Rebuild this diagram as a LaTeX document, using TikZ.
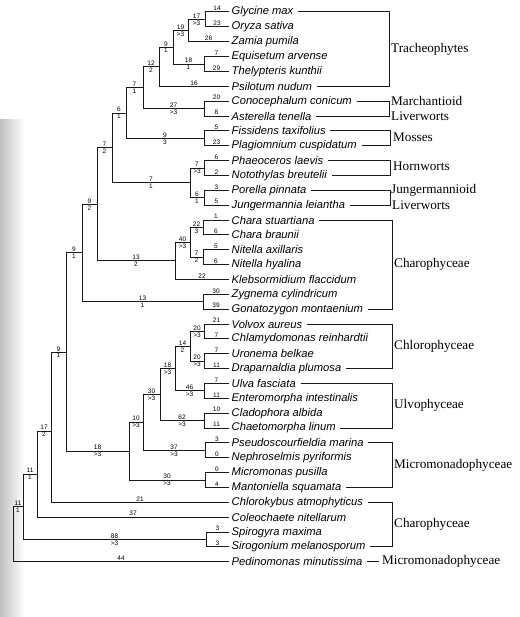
\documentclass[tikz,border=0pt]{standalone}
\usepackage{fontspec}
\setmainfont{Liberation Serif}
\setsansfont{Liberation Sans}
\newcommand\yy[1]{(12+14.86*(#1))}
\begin{document}
\begin{tikzpicture}[x=1pt,y=-1pt,
  br/.style={line width=1pt, draw=black!90},
  sp/.style={font=\sffamily\itshape\fontsize{11.2}{12}\selectfont, anchor=west, inner xsep=2.5pt, inner ysep=1pt},
  num/.style={font=\sffamily\fontsize{6.5}{7}\selectfont, inner sep=0.7pt},
  grp/.style={font=\rmfamily\fontsize{13.2}{14}\selectfont, anchor=west, inner sep=0pt}]
\useasboundingbox (0,0) rectangle (519,617);
\shade[left color=black!25, right color=white] (0,120) rectangle (24,617);
% leaves
\foreach \i/\t in {0/Glycine max,1/Oryza sativa,2/Zamia pumila,3/Equisetum arvense,4/Thelypteris kunthii,5/Psilotum nudum,6/Conocephalum conicum,7/Asterella tenella,8/Fissidens taxifolius,9/Plagiomnium cuspidatum,10/Phaeoceros laevis,11/Notothylas breutelii,12/Porella pinnata,13/Jungermannia leiantha,14/Chara stuartiana,15/Chara braunii,16/Nitella axillaris,17/Nitella hyalina,18/Klebsormidium flaccidum,19/Zygnema cylindricum,20/Gonatozygon montaenium,21/Volvox aureus,22/Chlamydomonas reinhardtii,23/Uronema belkae,24/Draparnaldia plumosa,25/Ulva fasciata,26/Enteromorpha intestinalis,27/Cladophora albida,28/Chaetomorpha linum,29/Pseudoscourfieldia marina,30/Nephroselmis pyriformis,31/Micromonas pusilla,32/Mantoniella squamata,33/Chlorokybus atmophyticus,34/Coleochaete nitellarum,35/Spirogyra maxima,36/Sirogonium melanosporum,37/Pedinomonas minutissima}
  \node[sp] (L\i) at (229,{\yy{\i}}) {\t};
% internal nodes
\coordinate (GO) at (205,{\yy{0.5}});
\coordinate (GOZ) at (188,{\yy{1.25}});
\coordinate (ET) at (204,{\yy{3.5}});
\coordinate (T1) at (173,{\yy{2.375}});
\coordinate (T2) at (159,{\yy{3.6875}});
\coordinate (MA) at (204,{\yy{6.5}});
\coordinate (L1n) at (143,{\yy{5.09}});
\coordinate (MO) at (204,{\yy{8.5}});
\coordinate (L2n) at (126,{\yy{6.8}});
\coordinate (HO) at (204,{\yy{10.5}});
\coordinate (JU) at (204,{\yy{12.5}});
\coordinate (HJ) at (190,{\yy{11.5}});
\coordinate (L3n) at (112,{\yy{9.15}});
\coordinate (CC) at (203,{\yy{14.5}});
\coordinate (CN) at (203,{\yy{16.5}});
\coordinate (CCN) at (190,{\yy{15.5}});
\coordinate (CK) at (175,{\yy{16.75}});
\coordinate (N97) at (97,{\yy{12.95}});
\coordinate (ZG) at (203,{\yy{19.5}});
\coordinate (N82) at (82,{\yy{16.2}});
\coordinate (VC) at (204,{\yy{21.5}});
\coordinate (UD) at (204,{\yy{23.5}});
\coordinate (VCUD) at (190,{\yy{22.5}});
\coordinate (UE) at (204,{\yy{25.5}});
\coordinate (N175) at (175,{\yy{24}});
\coordinate (CCH) at (204,{\yy{27.5}});
\coordinate (N160) at (160,{\yy{25.75}});
\coordinate (PN) at (205,{\yy{29.5}});
\coordinate (N143) at (143,{\yy{27.6}});
\coordinate (MM) at (205,{\yy{31.5}});
\coordinate (N129) at (129,{\yy{29.55}});
\coordinate (N66) at (66,{\yy{22.9}});
\coordinate (N51) at (51,{\yy{28.2}});
\coordinate (N37) at (37,{\yy{31.1}});
\coordinate (SS) at (206,{\yy{35.5}});
\coordinate (N23) at (23,{\yy{33.3}});
\coordinate (N13) at (13,{\yy{35.15}});
% leaf branches
\foreach \p/\l/\n in {GO/0/14,GO/1/23,GOZ/2/26,ET/3/7,ET/4/29,T2/5/16,MA/6/20,MA/7/8,MO/8/5,MO/9/23,HO/10/6,HO/11/2,JU/12/3,JU/13/5,CC/14/1,CC/15/6,CN/16/5,CN/17/6,CK/18/22,ZG/19/30,ZG/20/39,VC/21/21,VC/22/7,UD/23/7,UD/24/11,UE/25/7,UE/26/11,CCH/27/10,CCH/28/11,PN/29/3,PN/30/0,MM/31/0,MM/32/4,N51/33/21,N37/34/37,SS/35/3,SS/36/3,N13/37/44}
  \draw[br] (\p) |- node[num,pos=0.75,above]{\n} (L\l.west);
% internal branches
\foreach \p/\c/\a/\b in {GOZ/GO/17/>3,T1/GOZ/19/>3,T1/ET/18/1,T2/T1/9/1,L1n/T2/12/2,L1n/MA/27/>3,L2n/L1n/7/1,L2n/MO/9/3,L3n/L2n/6/1,HJ/HO/7/>3,HJ/JU/6/1,L3n/HJ/7/1,N97/L3n/7/2,CCN/CC/22/3,CCN/CN/7/2,CK/CCN/40/>3,N97/CK/13/2,N82/N97/9/2,N82/ZG/13/1,N66/N82/9/1,VCUD/VC/20/>3,VCUD/UD/20/>3,N175/VCUD/14/2,N175/UE/46/>3,N160/N175/18/>3,N160/CCH/62/>3,N143/N160/30/>3,N143/PN/37/>3,N129/N143/10/>3,N129/MM/30/>3,N66/N129/18/>3,N51/N66/9/1,N37/N51/17/2,N23/N37/11/1,N23/SS/88/>3,N13/N23/11/1}
  \draw[br] (\p) |- node[num,pos=0.75,above]{\a} node[num,pos=0.75,below]{\b} (\c);
% brackets
\newcommand\brk[3]{\draw[br] ([xshift=2pt]#1.east) -- (#1.east -| #3) -- (#2.east -| #3) -- ([xshift=2pt]#2.east);}
\coordinate (XA) at (389,0);
\coordinate (XB) at (390,0);
\coordinate (XC) at (392,0);
\brk{L0}{L5}{XA}
\brk{L6}{L7}{XA}
\brk{L8}{L9}{XB}
\brk{L10}{L11}{XB}
\brk{L12}{L13}{XB}
\brk{L14}{L20}{XC}
\brk{L21}{L24}{XC}
\brk{L25}{L28}{XC}
\brk{L29}{L32}{XC}
\brk{L33}{L36}{XC}
\node[grp] (gTr) at (391,{\yy{2.5}}) {Tracheophytes};
\node[grp] (gMa1) at (391,{\yy{6}}) {Marchantioid};
\node[grp] (gMa2) at (391,{\yy{7}}) {Liverworts};
\node[grp] (gMo) at (393,{\yy{8.4}}) {Mosses};
\node[grp] (gHo) at (393,{\yy{10.4}}) {Hornworts};
\node[grp] (gJu1) at (391,{\yy{12}}) {Jungermannioid};
\node[grp] (gJu2) at (392,{\yy{13}}) {Liverworts};
\node[grp] (gCh1) at (394,{\yy{17}}) {Charophyceae};
\node[grp] (gCl) at (394,{\yy{22.5}}) {Chlorophyceae};
\node[grp] (gUl) at (394,{\yy{26.5}}) {Ulvophyceae};
\node[grp] (gMi1) at (394,{\yy{30.5}}) {Micromonadophyceae};
\node[grp] (gCh2) at (394,{\yy{34.5}}) {Charophyceae};
\node[grp] (gMi2) at (382,{\yy{37}}) {Micromonadophyceae};
\draw[br] ([xshift=2pt]L37.east) -- ([xshift=-3pt]gMi2.west);
\end{tikzpicture}
\end{document}
